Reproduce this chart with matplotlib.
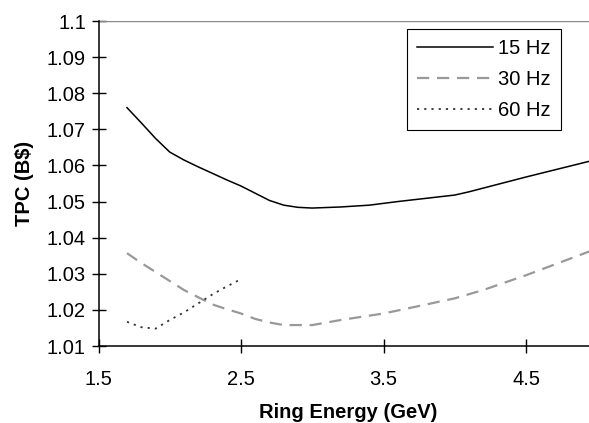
import matplotlib
matplotlib.use("Agg")
import matplotlib.pyplot as plt

# ring energy (GeV) and total project cost (B$)
energy_15 = [1.7, 1.8, 1.9, 2.0, 2.1, 2.2, 2.3, 2.4, 2.5, 2.6, 2.7, 2.8, 2.9, 3.0,
             3.2, 3.4, 3.6, 3.8, 4.0, 4.1, 4.5, 5.0]
tpc_15 = [1.076, 1.0718, 1.0675, 1.0637, 1.0615, 1.0596, 1.0578, 1.056, 1.0543, 1.0523,
          1.0503, 1.049, 1.0484, 1.0482, 1.0485, 1.049, 1.05, 1.0509, 1.0518, 1.0527,
          1.0568, 1.0617]

energy_30 = [1.7, 1.8, 1.9, 2.0, 2.1, 2.2, 2.3, 2.4, 2.5, 2.6, 2.7, 2.8, 3.0,
             3.2, 3.5, 3.8, 4.0, 4.2, 4.5, 5.0]
tpc_30 = [1.0357, 1.033, 1.0305, 1.028, 1.0255, 1.0235, 1.0215, 1.0202, 1.019, 1.0175,
          1.0165, 1.0158, 1.0158, 1.0172, 1.019, 1.0215, 1.0232, 1.0255, 1.0296, 1.037]

energy_60 = [1.7, 1.8, 1.9, 2.0, 2.1, 2.2, 2.3, 2.4, 2.5]
tpc_60 = [1.0167, 1.0152, 1.0148, 1.0172, 1.0193, 1.0218, 1.0243, 1.0265, 1.0285]

x_ticks = [1.5, 2.5, 3.5, 4.5]
y_ticks = [1.01, 1.02, 1.03, 1.04, 1.05, 1.06, 1.07, 1.08, 1.09, 1.1]
y_labels = ["1.01", "1.02", "1.03", "1.04", "1.05", "1.06", "1.07", "1.08", "1.09", "1.1"]

plt.rcParams['font.family'] = ['Liberation Sans', 'DejaVu Sans']

W, H = 589, 423
fs = 14.5
fig = plt.figure(figsize=(W / 100, H / 100), dpi=100)
ax = fig.add_axes([98.5 / W, 77 / H, 498.75 / W, 325 / H])

ax.plot(energy_15, tpc_15, color='black', lw=1.1, label='15 Hz')
ax.plot(energy_30, tpc_30, color='#999999', lw=1.6, dashes=(5.5, 3.5), label='30 Hz')
ax.plot(energy_60, tpc_60, color='#333333', lw=1.3, dashes=(1.2, 2.8), label='60 Hz')

ax.axhline(1.1, color='#888888', lw=1.0)

ax.set_xlim(1.5, 5.0)
ax.set_ylim(1.01, 1.1)
ax.set_xticks(x_ticks)
ax.set_xticklabels([str(t) for t in x_ticks])
ax.set_yticks(y_ticks)
ax.set_yticklabels(y_labels)

for s in ['top', 'right']:
    ax.spines[s].set_visible(False)
for s in ['left', 'bottom']:
    ax.spines[s].set_linewidth(1.1)
    ax.spines[s].set_color('black')

ax.tick_params(direction='inout', length=10, width=1.0, labelsize=fs)
ax.tick_params(axis='x', pad=12)
ax.tick_params(axis='y', pad=4)

ax.set_xlabel('Ring Energy (GeV)', fontsize=fs, fontweight='bold', labelpad=10)
ax.set_ylabel('TPC (B$)', fontsize=fs, fontweight='bold', labelpad=9)

leg = ax.legend(loc='upper right', bbox_to_anchor=(561 / W, 1 - 29 / H),
                bbox_transform=fig.transFigure, borderaxespad=0,
                fontsize=fs, handlelength=3.8, handletextpad=0.25,
                labelspacing=0.6, fancybox=False, framealpha=1,
                edgecolor='black', borderpad=0.5)
leg.get_frame().set_linewidth(0.8)

fig.savefig('out.png', dpi=100)
